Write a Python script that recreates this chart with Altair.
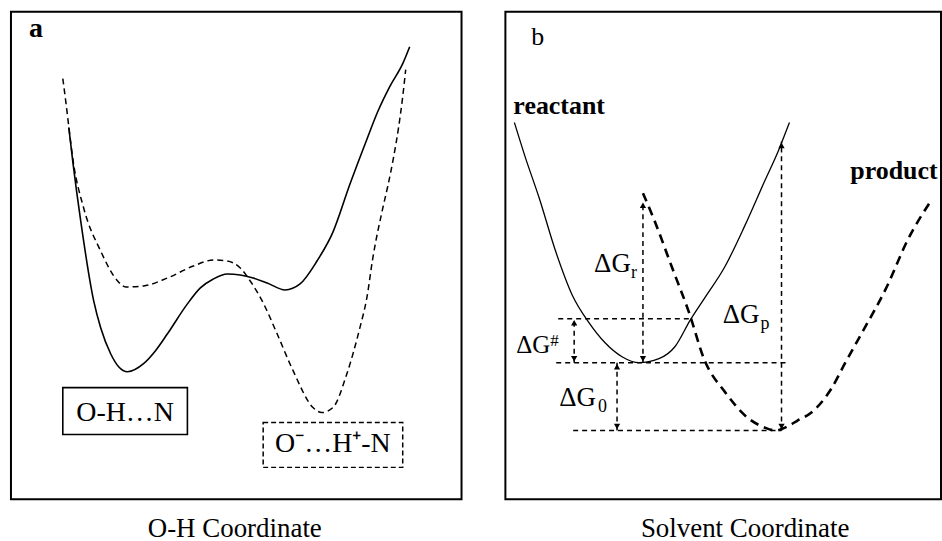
import altair as alt
import pandas as pd

FONT = "Liberation Serif"
WA, HA = 452, 489
WB, HB = 437, 489

# ---------------- panel a : O-H coordinate ----------------
a_oh_x = [58, 62, 70, 83, 90, 100, 108, 117, 133, 145, 157, 177, 190, 203, 217, 230, 243, 257, 275, 290, 307, 323, 340, 357, 368, 380, 393, 400]
a_oh_y = [373, 339, 279, 199, 172, 146, 133, 128, 136, 149, 166, 196, 212, 221, 226, 225, 222, 217, 210, 216, 239, 268, 316, 361, 389, 414, 437, 454]
a_pt_x = [52, 55, 58, 62, 73, 90, 107, 115, 133, 157, 183, 203, 217, 230, 240, 252, 267, 283, 303, 312, 323, 337, 350, 357, 363, 373, 378, 384, 389, 393, 396]
a_pt_y = [422, 399, 374, 342, 292, 249, 219, 213, 214, 222, 234, 240, 239, 232, 219, 199, 166, 129, 92, 87, 92, 126, 172, 202, 242, 292, 314, 344, 374, 404, 431]

a_box_x = [52, 253]
a_box_x2 = [177, 393]
a_box_y = [65, 32]
a_box_y2 = [112, 77]
a_box_text = ["O-H…N", "O⁻…H⁺-N"]
a_box_tx = [114.5, 323]
a_box_ty = [79, 47]

# ---------------- panel b : solvent coordinate ----------------
b_react_x = [9, 20, 34, 50, 67, 84, 100, 117, 134, 154, 170, 185, 200, 220, 240, 260, 274, 285]
b_react_y = [378, 343, 302, 250, 205, 177, 157, 143, 137, 141, 153, 179, 202, 233, 274, 319, 350, 378]
b_prod_x = [138, 149, 167, 184, 200, 220, 244, 260, 271, 283, 293, 307, 327, 341, 356, 383, 403, 428]
b_prod_y = [307, 281, 233, 188, 139, 108, 81, 72, 69, 73, 79, 87, 111, 137, 164, 214, 259, 301]

# horizontal guide levels
b_h_x = [53, 51, 68]
b_h_x2 = [186, 285, 277]
b_h_y = [181, 137, 69]
# vertical double arrows (dG#, dG0, dGr, dGp)
b_v_x = [69, 112, 138, 277]
b_v_lo = [137, 69, 137, 69]
b_v_hi = [181, 137, 299, 359]

b_lab_text = ["ΔG", "ΔG", "ΔG"]
b_lab_x = [89, 218, 54]
b_lab_y = [228, 177, 94]
b_sub_text = ["r", "p", "0"]
b_sub_x = [126, 256, 93]
b_sub_y = [222, 171, 88]
b_hash_main = ["ΔG"]
b_hash_x = [11]
b_hash_y = [147]
b_hash_sup = ["#"]
b_hash_sx = [45]
b_hash_sy = [154]

b_curve_text = ["reactant", "product"]
b_curve_x = [8, 346]
b_curve_y = [387, 321]

# ---------------- scales / axes ----------------
sxa = alt.Scale(domain=[0, WA], nice=False, zero=False)
sya = alt.Scale(domain=[0, HA], nice=False, zero=False)
sxb = alt.Scale(domain=[0, WB], nice=False, zero=False)
syb = alt.Scale(domain=[0, HB], nice=False, zero=False)


def title_axis(title, tx):
    return alt.Axis(title=title, domain=False, ticks=False, labels=False, grid=False,
                    titleFont=FONT, titleFontSize=27, titleFontWeight="normal",
                    titleColor="black", titleX=tx, titleY=37, titleAlign="center",
                    titleBaseline="alphabetic")


axA = title_axis("O-H Coordinate", 224)
axB = title_axis("Solvent Coordinate", 240)


def XA(f):
    return alt.X(f, type="quantitative", scale=sxa, axis=axA)


def YA(f):
    return alt.Y(f, type="quantitative", scale=sya, axis=None)


def XB(f):
    return alt.X(f, type="quantitative", scale=sxb, axis=axB)


def YB(f):
    return alt.Y(f, type="quantitative", scale=syb, axis=None)


# ---------------- panel a layers ----------------
df_oh = pd.DataFrame({"x": a_oh_x, "y": a_oh_y})
df_pt = pd.DataFrame({"x": a_pt_x, "y": a_pt_y})
df_box = pd.DataFrame({"x": a_box_x, "x2": a_box_x2, "y": a_box_y, "y2": a_box_y2,
                       "t": a_box_text, "tx": a_box_tx, "ty": a_box_ty})

a_solid = alt.Chart(df_oh).mark_line(interpolate="monotone", color="black", strokeWidth=1.6).encode(
    x=XA("x"), y=YA("y"))
a_dash = alt.Chart(df_pt).mark_line(interpolate="monotone", color="black", strokeWidth=1.5,
                                    strokeDash=[6, 4]).encode(x=XA("x"), y=YA("y"))
a_box1 = alt.Chart(df_box.iloc[[0]]).mark_rect(fillOpacity=0, stroke="black", strokeWidth=1.6).encode(
    x=XA("x"), x2="x2", y=YA("y"), y2="y2")
a_box2 = alt.Chart(df_box.iloc[[1]]).mark_rect(fillOpacity=0, stroke="black", strokeWidth=1.5,
                                               strokeDash=[5, 3]).encode(
    x=XA("x"), x2="x2", y=YA("y"), y2="y2")
a_boxtext = alt.Chart(df_box).mark_text(align="center", baseline="alphabetic", font=FONT,
                                        fontSize=28, color="black").encode(
    x=XA("tx"), y=YA("ty"), text="t:N")
a_tag = alt.Chart(pd.DataFrame({"x": [18], "y": [464], "t": ["a"]})).mark_text(
    align="left", baseline="alphabetic", font=FONT, fontSize=28, fontWeight="bold", color="black").encode(
    x=XA("x"), y=YA("y"), text="t:N")

panel_a = alt.layer(a_solid, a_dash, a_box1, a_box2, a_boxtext, a_tag).properties(width=WA, height=HA)

# ---------------- panel b layers ----------------
df_re = pd.DataFrame({"x": b_react_x, "y": b_react_y})
df_pr = pd.DataFrame({"x": b_prod_x, "y": b_prod_y})
df_h = pd.DataFrame({"x": b_h_x, "x2": b_h_x2, "y": b_h_y})
df_v = pd.DataFrame({"x": b_v_x, "lo": b_v_lo, "hi": b_v_hi})
df_lab = pd.DataFrame({"x": b_lab_x, "y": b_lab_y, "t": b_lab_text})
df_sub = pd.DataFrame({"x": b_sub_x, "y": b_sub_y, "t": b_sub_text})
df_hm = pd.DataFrame({"x": b_hash_x, "y": b_hash_y, "t": b_hash_main})
df_hs = pd.DataFrame({"x": b_hash_sx, "y": b_hash_sy, "t": b_hash_sup})
df_ct = pd.DataFrame({"x": b_curve_x, "y": b_curve_y, "t": b_curve_text})

b_react = alt.Chart(df_re).mark_line(interpolate="monotone", color="black", strokeWidth=1.3).encode(
    x=XB("x"), y=YB("y"))
b_prod = alt.Chart(df_pr).mark_line(interpolate="monotone", color="black", strokeWidth=2.6,
                                    strokeDash=[9, 6]).encode(x=XB("x"), y=YB("y"))
b_hl = alt.Chart(df_h).mark_rule(color="black", strokeWidth=1.5, strokeDash=[5, 4]).encode(
    x=XB("x"), x2="x2", y=YB("y"))
b_vl = alt.Chart(df_v).mark_rule(color="black", strokeWidth=1.5, strokeDash=[5, 4]).encode(
    x=XB("x"), y=YB("lo"), y2="hi")
b_up = alt.Chart(df_v).mark_point(shape="triangle-up", filled=True, size=40, color="black",
                                  opacity=1, yOffset=4).encode(x=XB("x"), y=YB("hi"))
b_dn = alt.Chart(df_v).mark_point(shape="triangle-down", filled=True, size=40, color="black",
                                  opacity=1, yOffset=-4).encode(x=XB("x"), y=YB("lo"))
b_lab = alt.Chart(df_lab).mark_text(align="left", baseline="alphabetic", font=FONT, fontSize=27,
                                    color="black").encode(x=XB("x"), y=YB("y"), text="t:N")
b_sub = alt.Chart(df_sub).mark_text(align="left", baseline="alphabetic", font=FONT, fontSize=18,
                                    color="black").encode(x=XB("x"), y=YB("y"), text="t:N")
b_hm = alt.Chart(df_hm).mark_text(align="left", baseline="alphabetic", font=FONT, fontSize=25,
                                  color="black").encode(x=XB("x"), y=YB("y"), text="t:N")
b_hs = alt.Chart(df_hs).mark_text(align="left", baseline="alphabetic", font=FONT, fontSize=17,
                                  color="black").encode(x=XB("x"), y=YB("y"), text="t:N")
b_ct = alt.Chart(df_ct).mark_text(align="left", baseline="alphabetic", font=FONT, fontSize=26,
                                  fontWeight="bold", color="black").encode(
    x=XB("x"), y=YB("y"), text="t:N")
b_tag = alt.Chart(pd.DataFrame({"x": [26], "y": [456], "t": ["b"]})).mark_text(
    align="left", baseline="alphabetic", font=FONT, fontSize=26, color="black").encode(
    x=XB("x"), y=YB("y"), text="t:N")

panel_b = alt.layer(b_react, b_prod, b_hl, b_vl, b_up, b_dn, b_lab, b_sub, b_hm, b_hs, b_ct,
                    b_tag).properties(width=WB, height=HB)

chart = alt.hconcat(panel_a, panel_b, spacing=42).properties(
    padding={"left": 10, "top": 10, "right": 0, "bottom": 0},
    background="white",
).configure_view(stroke="black", strokeWidth=2)

chart.save("out.html", embed_options={"renderer": "svg", "actions": False})
